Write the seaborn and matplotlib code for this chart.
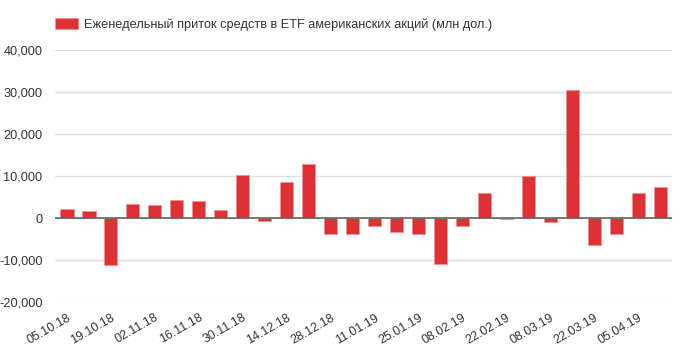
import matplotlib
matplotlib.use("Agg")
import matplotlib.pyplot as plt
import seaborn as sns
import pandas as pd

# weekly dates (every Friday) and flows, mln USD
weeks = ["05.10.18", "12.10.18", "19.10.18", "26.10.18", "02.11.18", "09.11.18",
         "16.11.18", "23.11.18", "30.11.18", "07.12.18", "14.12.18", "21.12.18",
         "28.12.18", "04.01.19", "11.01.19", "18.01.19", "25.01.19", "01.02.19",
         "08.02.19", "15.02.19", "22.02.19", "01.03.19", "08.03.19", "15.03.19",
         "22.03.19", "29.03.19", "05.04.19", "12.04.19"]
flows = [2200, 1800, -11100, 3300, 3100, 4200, 4000, 2000, 10300, -700,
         8500, 12900, -3700, -3900, -2000, -3300, -3900, -10900, -2000, 5900,
         -300, 10000, -1000, 30500, -6400, -3900, 5900, 7400]
y_ticks = [-20000, -10000, 0, 10000, 20000, 30000, 40000]
legend_label = "Еженедельный приток средств в ETF американских акций (млн дол.)"

df = pd.DataFrame({"week": weeks, "flow": flows})

sns.set_style("white")
plt.rcParams["font.family"] = ["Liberation Sans", "DejaVu Sans"]

fig = plt.figure(figsize=(6.86, 3.55), dpi=100)
ax = fig.add_axes([0.080, 0.149, 0.900, 0.710])

sns.barplot(data=df, x="week", y="flow", color="#dc3236", width=0.6,
            edgecolor="#f09090", linewidth=0.6, saturation=1, ax=ax,
            label=legend_label, zorder=3)

ax.set_ylim(-20000, 40000)
ax.set_yticks(y_ticks)
ax.set_yticklabels([f"{v:,}" for v in y_ticks])
ax.set_xlim(-0.55, len(weeks) - 0.45)
ax.grid(axis="y", color="#dddddd", linewidth=1, zorder=0)
ax.axhline(0, color="#666666", linewidth=1.2, zorder=4)

ax.set_xticks(range(0, len(weeks), 2))
ax.set_xticklabels(weeks[::2], rotation=30, ha="right", rotation_mode="anchor")
ax.tick_params(axis="x", length=0, pad=7, labelsize=9, labelcolor="#333333")
ax.tick_params(axis="y", length=0, pad=9, labelsize=9.2, labelcolor="#333333")
ax.set_xlabel("")
ax.set_ylabel("")
for s in ax.spines.values():
    s.set_visible(False)

ax.legend(loc="lower left", bbox_to_anchor=(0.0, 1.075), frameon=False,
          fontsize=9.2, handlelength=1.8, handleheight=0.9, borderaxespad=0,
          borderpad=0, handletextpad=0.5, labelcolor="#333333")

fig.savefig("out.png", dpi=100)
